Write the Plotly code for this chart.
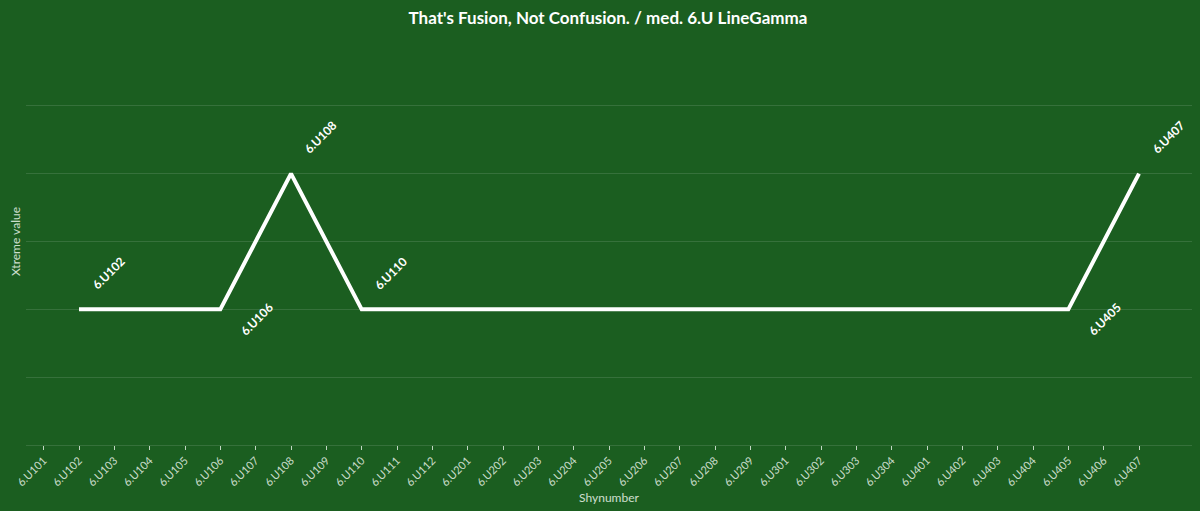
import plotly.graph_objects as go

# all shy numbers on the x axis
categories = (
    ["6.U1%02d" % i for i in range(1, 13)]
    + ["6.U2%02d" % i for i in range(1, 10)]
    + ["6.U3%02d" % i for i in range(1, 5)]
    + ["6.U4%02d" % i for i in range(1, 8)]
)

# points of the line
points = ["6.U102", "6.U106", "6.U108", "6.U110", "6.U405", "6.U407"]
values = [2, 2, 4, 2, 2, 4]
label_side = ["up", "down", "up", "up", "down", "up"]

bg = "#1b5e20"
grid = "rgba(255,255,255,0.12)"
soft = "rgba(235,245,235,0.85)"
font = "Lato"

fig = go.Figure()

fig.add_trace(go.Scatter(
    x=points,
    y=values,
    mode="lines",
    line=dict(color="white", width=4),
    hoverinfo="x+y",
))

for p, v, side in zip(points, values, label_side):
    if side == "up":
        dx, dy = 29, 36
    else:
        dx, dy = 36, -10
    fig.add_annotation(
        x=p, y=v, text=p, showarrow=False, textangle=-45,
        xshift=dx, yshift=dy,
        font=dict(family=font, size=12, color="white", weight="bold"),
    )

# page body has an 8px margin, so margins are set to put the plot where the window wants it
fig.update_layout(
    width=1200, height=511,
    paper_bgcolor=bg, plot_bgcolor=bg,
    margin=dict(l=18, r=16, t=30, b=74),
    showlegend=False,
    title=dict(
        text="That's Fusion, Not Confusion. / med. 6.U LineGamma",
        x=0.5, xanchor="center", y=1 - 10 / 511, yanchor="middle",
        font=dict(family=font, size=17, color="white", weight="bold"),
    ),
    font=dict(family=font, color=soft),
)

fig.update_xaxes(
    type="category",
    categoryorder="array", categoryarray=categories,
    tickvals=categories,
    range=[-0.5, len(categories) + 0.5],
    tickangle=-45,
    tickfont=dict(size=11, color=soft),
    ticks="outside", ticklen=4, tickcolor="rgba(235,245,235,0.8)",
    showgrid=False,
    showline=True, linecolor=grid, linewidth=1,
    automargin=False,
    title=dict(text="Shynumber", font=dict(size=12, color=soft), standoff=6),
)

fig.update_yaxes(
    range=[0, 6], dtick=1,
    showticklabels=False,
    showgrid=True, gridcolor=grid, gridwidth=1,
    zeroline=False,
    automargin=False,
    title=dict(text="Xtreme value", font=dict(size=12, color=soft), standoff=4),
)

# paint the page edges green too
fig.write_html(
    "out.html",
    post_script="document.body.style.backgroundColor='%s';"
                "document.documentElement.style.backgroundColor='%s';" % (bg, bg),
)
